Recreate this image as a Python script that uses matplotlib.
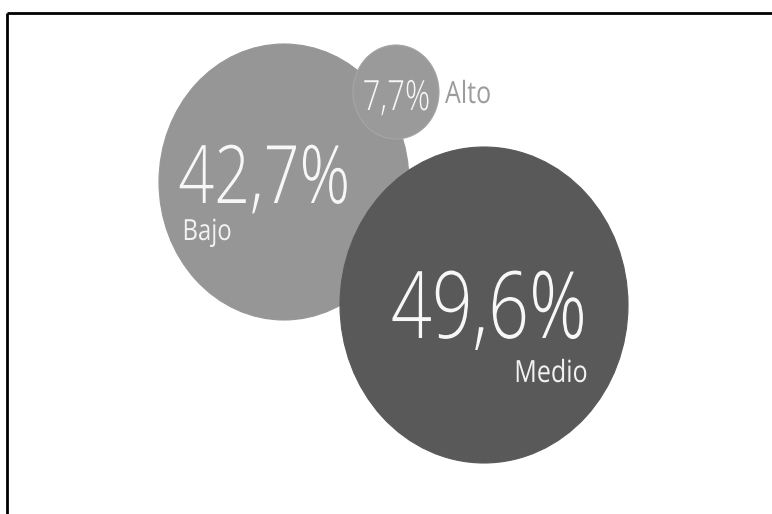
import matplotlib.pyplot as plt
from matplotlib.patches import Ellipse
from matplotlib.patheffects import AbstractPathEffect
from matplotlib.transforms import Affine2D

# Data
categories = ['Bajo', 'Alto', 'Medio']
percent = [42.7, 7.7, 49.6]

# Layout (pixel coords, y down)
centers = [(284, 182), (396, 92), (484, 305)]
radii = [(125, 138), (43, 47), (144, 158)]
colors = ['#969696', '#9a9a9a', '#595959']
edge_colors = ['#969696', '#a6a6a6', '#595959']

# value label: x, baseline y, size, ha, squeeze ; name label: x, baseline y, size, ha, color
value_pos = [(178, 203, 58, 'left', 0.78), (362, 110, 30, 'left', 0.75),
             (588, 338, 67, 'right', 0.77)]
name_pos = [(182, 240, 21, 'left', '#f2f2f2'), (445, 103, 22, 'left', '#9c9c9c'),
            (588, 382, 22, 'right', '#f2f2f2')]


class Squeeze(AbstractPathEffect):
    """Draw text narrower (the reference uses a condensed face)."""

    def __init__(self, sx, anchor='left'):
        super().__init__()
        self.sx = sx
        self.anchor = anchor

    def draw_path(self, renderer, gc, tpath, affine, rgbFace=None):
        ext = tpath.get_extents()
        x0 = ext.x0 if self.anchor == 'left' else ext.x1
        t = Affine2D().translate(-x0, 0).scale(self.sx, 1).translate(x0, 0) + affine
        renderer.draw_path(gc, tpath, t, rgbFace)


plt.rcParams['font.family'] = ['Open Sans', 'DejaVu Sans']

fig = plt.figure(figsize=(7.72, 5.14), dpi=100)
ax = fig.add_axes([0, 0, 1, 1])
ax.set_xlim(0, 772)
ax.set_ylim(514, 0)
ax.axis('off')

# Bubbles: Bajo, then Alto, then Medio on top
for (cx, cy), (rx, ry), c, ec in zip(centers, radii, colors, edge_colors):
    ax.add_patch(Ellipse((cx, cy), 2 * rx, 2 * ry, facecolor=c, edgecolor=ec, lw=0.8))

for name, v, vp, npos in zip(categories, percent, value_pos, name_pos):
    label = f"{v:.1f}".replace('.', ',') + '%'
    ax.text(vp[0], vp[1], label, fontsize=vp[2], ha=vp[3], va='baseline',
            color='#f7f7f7', fontweight='light',
            path_effects=[Squeeze(vp[4], vp[3])])
    ax.text(npos[0], npos[1], name, fontsize=npos[2], ha=npos[3], va='baseline',
            color=npos[4], path_effects=[Squeeze(0.82, npos[3])])

# Frame lines (top and left only)
ax.plot([7, 772], [13, 13], color='black', lw=2, solid_capstyle='butt')
ax.plot([7, 7], [13, 514], color='black', lw=2, solid_capstyle='butt')

fig.savefig('out.png', dpi=100)
